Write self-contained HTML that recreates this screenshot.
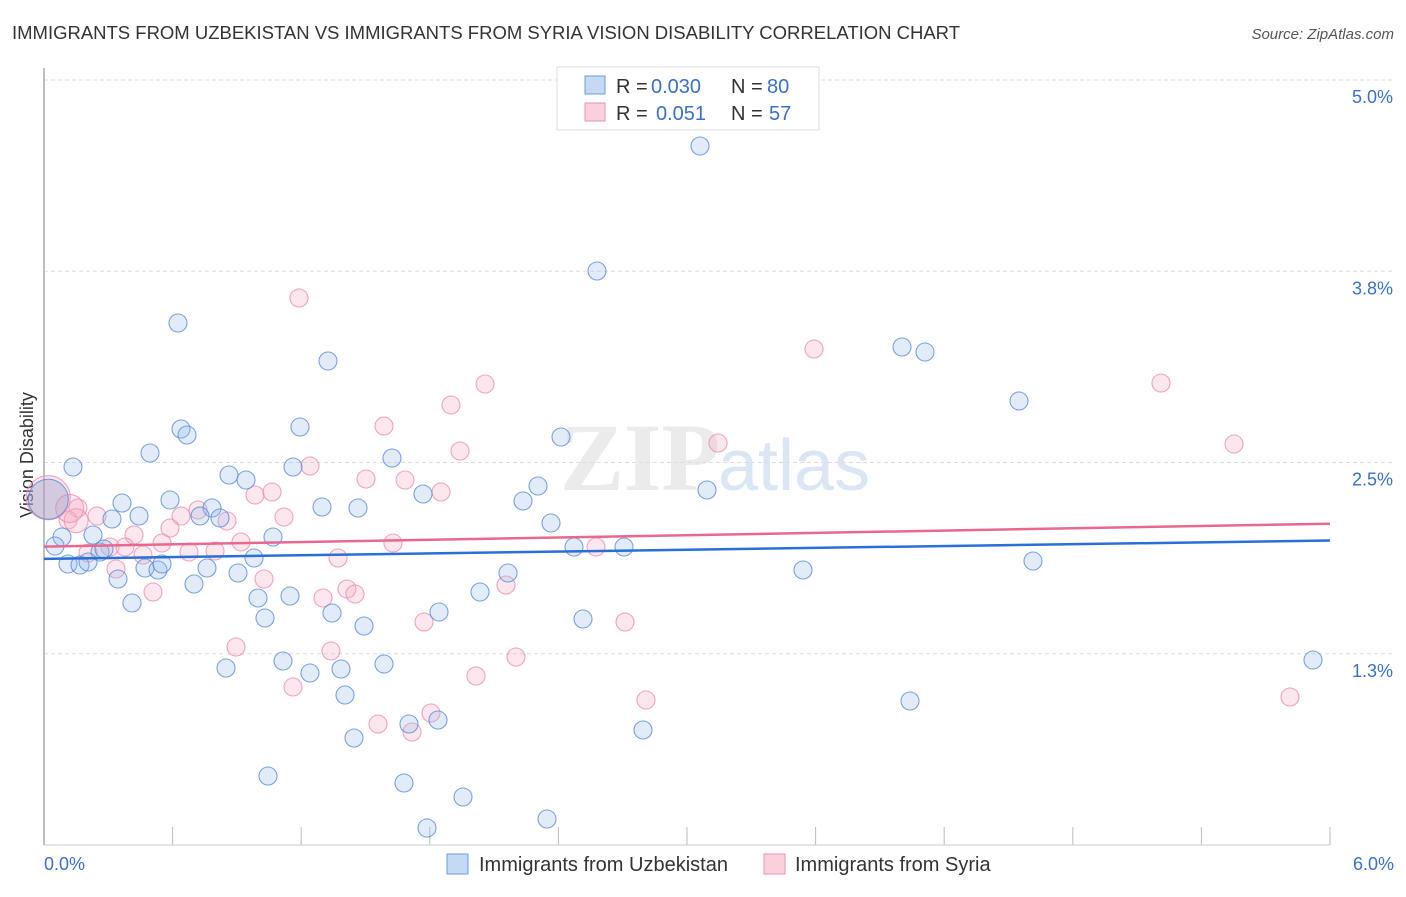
<!DOCTYPE html>
<html><head><meta charset="utf-8"><style>
body{margin:0;background:#fff;font-family:"Liberation Sans",sans-serif}
</style></head><body>
<svg width="1406" height="892" xmlns="http://www.w3.org/2000/svg">
<text x="12" y="39" font-size="18" fill="#333" textLength="948" lengthAdjust="spacingAndGlyphs">IMMIGRANTS FROM UZBEKISTAN VS IMMIGRANTS FROM SYRIA VISION DISABILITY CORRELATION CHART</text>
<text x="1394" y="39" font-size="15" fill="#555" font-style="italic" text-anchor="end">Source: ZipAtlas.com</text>
<text x="720" y="490" font-size="96" fill="#ebebeb" text-anchor="end" font-family="Liberation Serif" font-weight="bold">ZIP</text>
<text x="718" y="490" font-size="72" fill="#dbe6f5">atlas</text>
<g id="grid"></g>
<line x1="44" y1="68" x2="44" y2="845" stroke="#aaa" stroke-width="1.5"/>
<line x1="44" y1="845" x2="1330" y2="845" stroke="#ccc" stroke-width="1"/>
<text x="33" y="455" font-size="18" fill="#333" text-anchor="middle" transform="rotate(-90 33 455)">Vision Disability</text>
<text x="44" y="870" font-size="18" fill="#3a70c8">0.0%</text>
<text x="1394" y="870" font-size="18" fill="#3a70c8" text-anchor="end">6.0%</text>
<g id="points"></g>
<g id="lines"></g>
<g font-size="20">
<rect x="557" y="67" width="262" height="63" fill="#fff" stroke="#ddd"/>
<rect x="585" y="76" width="20" height="18" fill="#c5d9f5" stroke="#6a9be0"/>
<rect x="585" y="103" width="20" height="18" fill="#fbd0dd" stroke="#ec8fae"/>
<text x="616" y="93" fill="#333">R =</text>
<text x="651" y="93" fill="#3a70c8">0.030</text>
<text x="731" y="93" fill="#333">N =</text>
<text x="767" y="93" fill="#3a70c8">80</text>
<text x="616" y="120" fill="#333">R =</text>
<text x="656" y="120" fill="#3a70c8">0.051</text>
<text x="731" y="120" fill="#333">N =</text>
<text x="769" y="120" fill="#3a70c8">57</text>
</g>
<g>
<rect x="447" y="854" width="21" height="20" fill="#c5d9f5" stroke="#6a9be0"/>
<text x="479" y="871" font-size="20" fill="#333">Immigrants from Uzbekistan</text>
<rect x="764" y="854" width="21" height="20" fill="#fbd0dd" stroke="#ec8fae"/>
<text x="795" y="871" font-size="20" fill="#333">Immigrants from Syria</text>
</g>
</svg>
<script>
const yTicks=[5.0,3.75,2.5,1.25];
const yTickLabels=["5.0%","3.8%","2.5%","1.3%"];
const xTicks=[0,0.6,1.2,1.8,2.4,3.0,3.6,4.2,4.8,5.4,6.0];
const blueXpx=[700,597,178,328,902,925,1019,181,187,300,150,73,561,392,293,229,246,538,707,122,170,423,523,212,322,358,139,112,200,220,551,62,93,273,55,100,104,574,624,254,68,80,88,145,158,162,207,238,118,508,1033,803,194,290,258,480,132,439,332,265,583,364,226,283,310,341,384,1313,345,910,409,438,643,354,268,404,463,547,427];
const blueYpx=[146,271,323,361,347,352,401,429,435,427,453,467,437,458,467,475,480,486,490,503,500,494,501,508,507,508,516,519,516,518,523,537,535,537,546,552,549,547,547,558,564,565,562,568,570,564,568,573,579,573,561,570,584,596,598,592,603,612,613,618,619,626,668,661,673,669,664,660,695,701,724,720,730,738,776,783,797,819,828];
const pinkXpx=[299,814,485,1161,451,384,718,1234,460,310,366,405,255,272,441,78,198,181,284,227,97,68,134,170,241,162,110,125,393,596,189,215,143,88,338,116,264,347,355,323,506,153,424,625,331,236,516,476,293,646,1290,431,378,412];
const pinkYpx=[298,349,384,383,405,426,443,444,451,466,479,480,495,492,492,508,510,516,517,521,516,520,535,528,542,543,547,547,543,547,552,551,555,553,558,569,579,589,594,598,585,592,622,622,651,647,657,676,687,700,697,713,724,732];
const px2x=p=>(p-44)/1286*6, py2y=p=>(845-p)/153;
const blueX=blueXpx.map(px2x), blueY=blueYpx.map(py2y);
const pinkX=pinkXpx.map(px2x), pinkY=pinkYpx.map(py2y);
const blueBig=[[0.02,2.26,20]], pinkBig=[[0.02,2.27,22],[0.15,2.12,12],[0.12,2.2,14]];
const blueTrend=[1.87,1.99], pinkTrend=[1.95,2.1];
const X=v=>44+v/6*1286, Y=v=>845-v*153;
const NS="http://www.w3.org/2000/svg";
const grid=document.getElementById('grid');
yTicks.forEach((t,i)=>{
 const l=document.createElementNS(NS,'line');
 
 
 l.setAttribute('x1',44);l.setAttribute('x2',1394);l.setAttribute('y1',Y(t));l.setAttribute('y2',Y(t));
 l.setAttribute('stroke','#ddd');l.setAttribute('stroke-dasharray','4,3');grid.appendChild(l);
 const tx=document.createElementNS(NS,'text');
 
 
 tx.setAttribute('x',1393);tx.setAttribute('y',Y(t)+23);tx.setAttribute('text-anchor','end');
 tx.setAttribute('font-size','18');tx.setAttribute('fill','#3a70c8');tx.textContent=yTickLabels[i];grid.appendChild(tx);
});
xTicks.forEach(t=>{
 const l=document.createElementNS(NS,'line');
 
 
 l.setAttribute('x1',X(t));l.setAttribute('x2',X(t));l.setAttribute('y1',827);l.setAttribute('y2',845);
 l.setAttribute('stroke','#bbb');grid.appendChild(l);
});
const pts=document.getElementById('points');
function dot(x,y,r,fill,stroke,name){
 const c=document.createElementNS(NS,'circle');
 
 
 c.setAttribute('cx',X(x));c.setAttribute('cy',Y(y));c.setAttribute('r',r);
 c.setAttribute('fill',fill);c.setAttribute('stroke',stroke);c.setAttribute('stroke-width','1.1');
 pts.appendChild(c);
}
pinkX.forEach((x,i)=>dot(x,pinkY[i],9,'rgba(246,170,195,0.28)','rgba(236,143,174,0.8)','syria-point'));
pinkBig.forEach(b=>dot(b[0],b[1],b[2],'rgba(246,170,195,0.28)','rgba(236,143,174,0.8)','syria-point'));
blueX.forEach((x,i)=>dot(x,blueY[i],9,'rgba(150,185,235,0.28)','rgba(90,140,220,0.8)','uzbekistan-point'));
blueBig.forEach(b=>dot(b[0],b[1],b[2],'rgba(150,160,200,0.4)','rgba(90,140,220,0.8)','uzbekistan-point'));
const lg=document.getElementById('lines');
[[blueTrend,'#2a6fd6','uzbekistan-trendline'],[pinkTrend,'#e8688f','syria-trendline']].forEach(([t,c,n])=>{
 const l=document.createElementNS(NS,'line');
 
 
 l.setAttribute('x1',X(0));l.setAttribute('x2',X(6));l.setAttribute('y1',Y(t[0]));l.setAttribute('y2',Y(t[1]));
 l.setAttribute('stroke',c);l.setAttribute('stroke-width','2.5');lg.appendChild(l);
});
</script>
</body></html>
